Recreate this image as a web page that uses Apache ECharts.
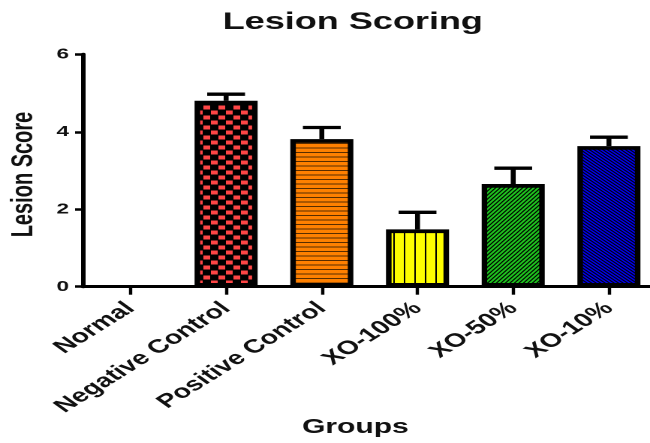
<!DOCTYPE html>
<html><head><meta charset="utf-8">
<script src="https://cdn.jsdelivr.net/npm/echarts@6/dist/echarts.min.js"></script>
<style>
html,body{margin:0;padding:0;background:#fff;overflow:hidden}
#wrap{width:650px;height:443px;overflow:hidden;position:relative;background:#fff}
#main{width:433px;height:443px;transform:scaleX(1.50115);transform-origin:0 0}
</style></head>
<body><div id="wrap"><div id="main"></div></div>
<script>
// ---- data ----
const categories = ['Normal', 'Negative Control', 'Positive Control', 'XO-100%', 'XO-50%', 'XO-10%'];
const meanScores = [0, 4.80, 3.81, 1.48, 2.65, 3.63];
const semScores  = [0, 0.17, 0.30, 0.44, 0.41, 0.23];
const yTicks = [0, 2, 4, 6];

// ---- patterns ----
const RES = 2;
function tile(w, h, draw) {
  const c = document.createElement('canvas');
  c.width = w * RES; c.height = h * RES;
  const g = c.getContext('2d');
  g.scale(RES, RES);
  draw(g, w, h);
  return { image: c, repeat: 'repeat', scaleX: 1 / RES, scaleY: 1 / RES };
}
const checker = tile(10, 10, g => {
  g.fillStyle = '#000'; g.fillRect(0, 0, 10, 10);
  g.fillStyle = '#ff4646';
  g.fillRect(0.5, 0.5, 4.5, 4); g.fillRect(5.5, 5.5, 4.5, 4);
});
const hStripes = tile(1, 4.5, g => {
  g.fillStyle = '#ff8000'; g.fillRect(0, 0, 1, 4.5);
  g.fillStyle = 'rgba(70,35,0,0.9)'; g.fillRect(0, 3.5, 1, 1);
});
const vStripes = tile(7, 1, g => {
  g.fillStyle = '#ffff00'; g.fillRect(0, 0, 7, 1);
  g.fillStyle = '#000'; g.fillRect(3, 0, 1, 1);
});
function hatch(bg, px, py, forward, lw) {
  return tile(px, py, g => {
    g.fillStyle = bg; g.fillRect(0, 0, px, py);
    g.strokeStyle = '#000'; g.lineWidth = lw;
    g.beginPath();
    for (let n = -2; n <= 3; n++) {
      if (forward) { // "/"
        g.moveTo(-1, py * (n + 1 / px)); g.lineTo(px + 1, py * (n - 1 - 1 / px));
      } else {       // "\"
        g.moveTo(-1, py * (-1 / px - n)); g.lineTo(px + 1, py * (1 + 1 / px - n));
      }
    }
    g.stroke();
  });
}
const greenHatch = hatch('#1fc41f', 3, 4, true, 0.9);
const blueHatch = hatch('#0000ee', 3, 3, false, 0.9);
const fills = [checker, checker, hStripes, vStripes, greenHatch, blueHatch];

const font = "'Liberation Sans', Arial, Helvetica, sans-serif";
const chart = echarts.init(document.getElementById('main'), null, { width: 433, height: 443, devicePixelRatio: 2 });

chart.setOption({
  animation: false,
  backgroundColor: '#fff',
  title: {
    text: 'Lesion Scoring', left: 235, top: 10.5, textAlign: 'center', padding: 0,
    textStyle: { fontSize: 24, fontWeight: 'bold', color: '#111', fontFamily: font }
  },
  grid: { left: 55, top: 54.3, width: 382.5, height: 232.4, containLabel: false, outerBoundsMode: 'none' },
  xAxis: {
    type: 'category', data: categories,
    axisLine: { lineStyle: { color: '#000', width: 3 } },
    axisTick: { show: true, alignWithLabel: true, length: 8, lineStyle: { color: '#000', width: 2.2 } },
    axisLabel: { interval: 0, rotate: 43, margin: 19, fontSize: 19, fontWeight: 'bold', color: '#111', fontFamily: font },
    name: 'Groups', nameLocation: 'middle', nameGap: 131, nameMoveOverlap: false,
    nameTextStyle: { fontSize: 20, fontWeight: 'bold', color: '#111', fontFamily: font, padding: [0, 19, 0, 0] }
  },
  yAxis: {
    type: 'value', min: yTicks[0], max: yTicks[yTicks.length - 1], interval: yTicks[1] - yTicks[0],
    axisLine: { show: true, lineStyle: { color: '#000', width: 3 } },
    axisTick: { show: true, length: 5, lineStyle: { color: '#000', width: 2.5 } },
    axisLabel: { margin: 9, fontSize: 15, fontWeight: 'bold', color: '#111', fontFamily: font },
    splitLine: { show: false },
    name: 'Lesion Score', nameLocation: 'middle', nameRotate: 90, nameGap: 29, nameMoveOverlap: false,
    nameTextStyle: { fontSize: 20, fontWeight: 'bold', color: '#111', fontFamily: font, padding: [0, 8, 0, 0] }
  },
  series: [
    {
      type: 'bar', barWidth: 42,
      data: meanScores.map((v, i) => ({ value: v, itemStyle: { color: fills[i], borderWidth: v > 0 ? 3.7 : 0 } })),
      itemStyle: { borderColor: '#000', borderWidth: 3.7 },
      z: 2
    },
    {
      type: 'custom', z: 3,
      data: meanScores.map((v, i) => [i, v, semScores[i]]),
      renderItem: function (params, api) {
        const err = api.value(2);
        if (!(err > 0)) return null;
        const i = api.value(0), m = api.value(1);
        const base = api.coord([i, m]);
        const top = api.coord([i, m + err]);
        const half = 12.6;
        const st = { stroke: '#000', lineWidth: 3.3, fill: null };
        return {
          type: 'group', children: [
            { type: 'line', shape: { x1: base[0], y1: base[1], x2: top[0], y2: top[1] }, style: st },
            { type: 'line', shape: { x1: top[0] - half, y1: top[1], x2: top[0] + half, y2: top[1] }, style: st }
          ]
        };
      }
    }
  ]
});
</script>
</body></html>
